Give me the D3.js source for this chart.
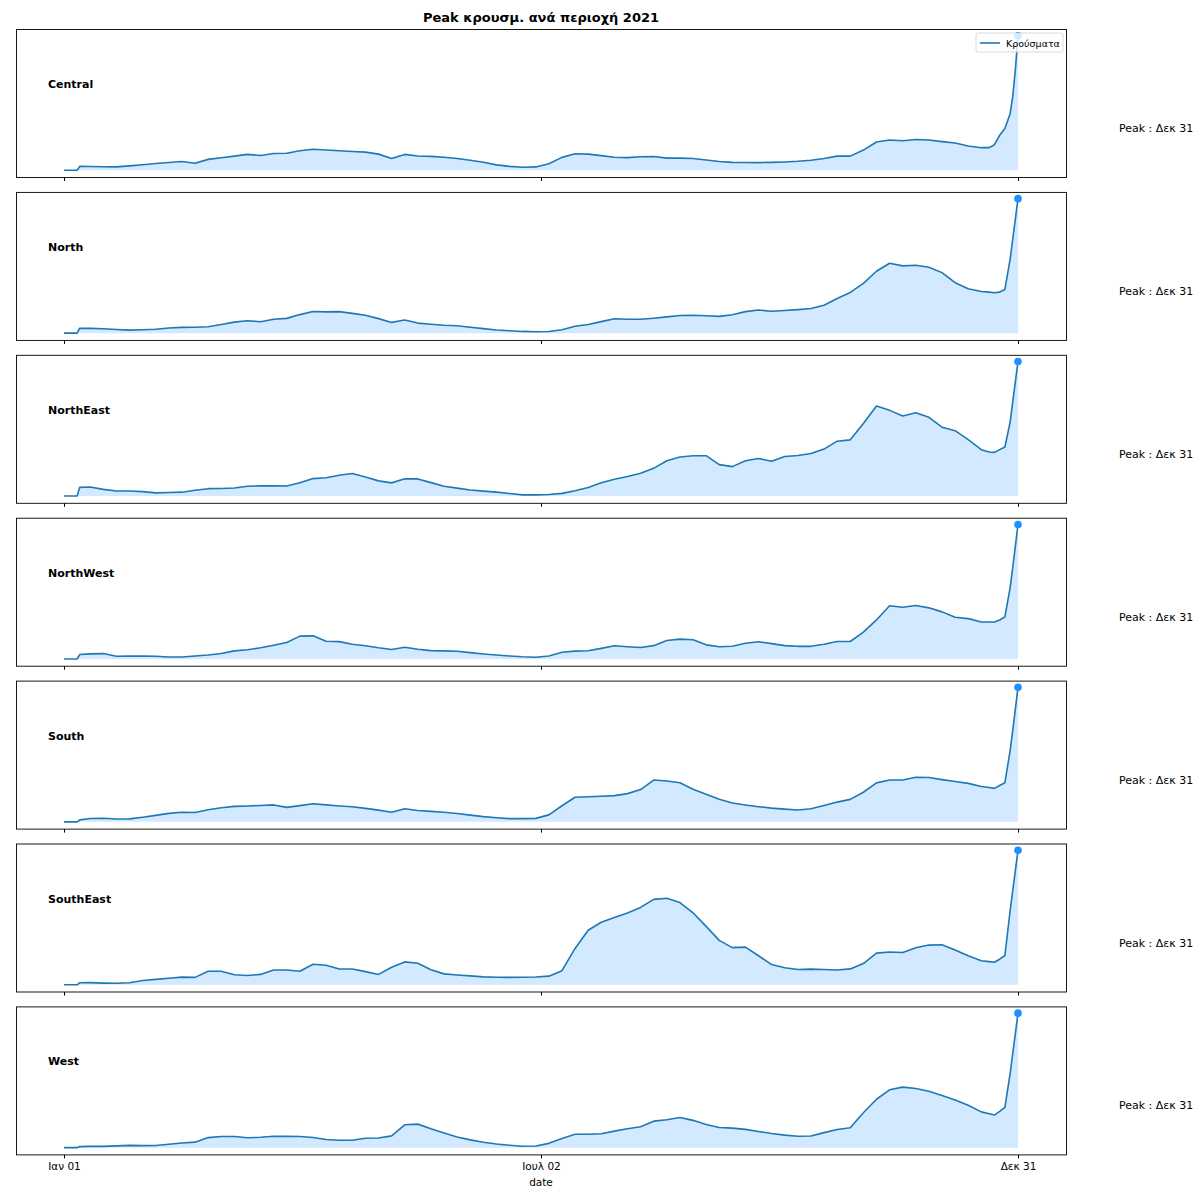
<!DOCTYPE html>
<html>
<head>
<meta charset="utf-8">
<script src="https://cdn.jsdelivr.net/npm/d3@7"></script>
<style>
  html, body { margin: 0; padding: 0; background: #fff; }
  svg { display: block; font-family: "DejaVu Sans", sans-serif; }
</style>
</head>
<body>
<svg id="chart" width="1200" height="1200"></svg>
<script>
// ---- data ----
const title = "Peak κρουσμ. ανά περιοχή 2021";
const legendLabel = "Κρούσματα";
const xLabel = "date";
const monthNames = ["Ιαν","Φεβ","Μαρ","Απρ","Μαϊ","Ιουν","Ιουλ","Αυγ","Σεπ","Οκτ","Νοε","Δεκ"];
const tickDays = [0, 182, 364];
const regions = ["Central","North","NorthEast","NorthWest","South","SouthEast","West"];

// days since 2021-01-01
const days = [0,5,6,
  10,15,20,25,30,35,40,45,50,55,60,65,70,75,80,85,90,95,100,
  105,110,115,120,125,130,135,140,145,150,155,160,165,170,175,180,
  185,190,195,200,205,210,215,220,225,230,235,240,245,250,255,260,
  265,270,275,280,285,290,295,300,305,310,315,320,325,330,335,340,345,350,
  353,355,357,359,361,362,363,364];

const central = [0,0,2.9,
  2.8,2.6,2.5,3.3,4.1,5.0,5.8,6.5,5.2,8.1,9.3,10.5,11.8,11.0,12.5,12.6,14.5,15.6,15.1,
  14.5,14.0,13.5,12.0,8.8,11.8,10.6,10.3,9.7,8.8,7.4,6.0,4.0,2.9,2.3,2.5,
  4.8,9.6,12.3,12.0,10.9,9.7,9.4,10.0,10.2,9.0,9.0,8.7,7.6,6.5,5.9,5.8,
  5.7,5.9,6.2,6.7,7.5,8.7,10.5,10.5,15.0,21.0,22.5,21.9,22.9,22.5,21.3,20.3,18.0,16.8,
  16.8,19,26,31,42,55,75,100];

const north = [0,0,3.7,
  3.6,3.25,2.7,2.3,2.6,2.9,3.8,4.3,4.4,4.8,6.4,8.2,9.25,8.5,10.4,11,13.8,16.1,15.8,
  16,14.7,13.3,10.8,8,9.75,7.5,6.6,5.9,5.5,4.4,3.4,2.4,1.8,1.3,1.1,
  1.2,2.5,5.2,6.4,8.6,10.7,10.3,10.3,11.1,12.1,13.1,13.3,12.9,12.5,13.75,16.0,
  17.2,16.25,16.9,17.5,18.3,20.8,25.8,30.3,37,46,52,50,50.5,49,45,37.5,33,31,
  30.5,30,30.5,32.5,55,70,85,100];

const northEast = [0,0,6.5,
  6.75,5,3.75,3.75,3.3,2.4,2.6,2.9,4.3,5.5,5.6,6,7.3,7.6,7.6,7.5,9.9,13,13.6,
  15.5,16.75,14.1,11.3,9.8,12.9,12.75,10,7.25,5.9,4.5,3.7,2.9,1.9,0.9,0.9,
  1.2,2,4,6.4,9.9,12.5,14.5,17,20.6,26.25,29,30,30,23.4,21.9,26.2,
  27.9,25.9,29.4,30.2,31.6,34.9,40.8,41.8,54,67,63.7,59.5,62,58.5,51.2,48.6,42,34.5,
  32.8,32.5,34.5,36.5,55,70,85,100];

const northWest = [0,0,3.3,
  3.8,4,2,2.1,2.2,2,1.5,1.5,2.2,3,4.1,6,6.8,8.3,10.2,12.3,17,17.2,13.2,
  12.9,11,9.8,8.3,7.1,8.75,7.2,6.2,6,5.75,4.7,3.7,2.9,2.2,1.6,1.3,
  2.2,5,5.8,6.1,7.9,9.8,9.1,8.5,9.9,13.75,14.75,14.25,10.5,9.1,9.4,11.7,
  12.75,11.4,9.9,9.4,9.4,11,13,13,20,29,39.5,38.4,39.7,38,35,31,30,27.5,
  27.5,27.5,29,31.25,53,68,84,100];

const south = [0,0,1.5,
  2.5,2.7,2.1,2.2,3.4,4.8,6.3,7.2,7,9,10.5,11.5,11.8,12.2,12.6,10.8,12.1,13.5,12.6,
  11.8,11.2,10,8.7,7.2,9.7,8.5,7.8,7.1,6.2,5,3.9,3.1,2.4,2.4,2.6,
  5.2,12,18.3,18.7,19,19.5,21,24,31.1,30.4,29.1,24.3,20.6,16.8,14,12.6,
  11.3,10.2,9.5,8.8,9.8,12.2,14.7,16.7,22,29,31.1,31.1,33.2,33,31.4,30,28.6,26.3,
  25.5,24.9,27,29.1,53,68,84,100];

const southEast = [0,0,1.5,
  1.6,1.25,1.1,1.5,3.2,4,4.9,5.7,5.5,10,10,7.4,6.9,7.7,11,11,10,15.3,14.5,
  11.75,11.75,9.75,7.7,13,17,16,11.2,8.1,7.25,6.6,5.9,5.6,5.5,5.6,5.8,
  6.4,10.5,27,40.5,46.5,50,53.3,57.5,63.5,64.3,61.1,53.5,43.4,33,27.6,28,
  21.6,15,12.7,11.3,11.6,11.4,11,11.8,15.8,23.5,24.4,24,27.5,29.5,29.8,25.9,21.6,17.8,
  17.2,16.75,19,21.75,55,70,85,100];

const west = [0,0,0.8,
  1,1,1.3,1.7,1.5,1.6,2.6,3.5,4.1,7.5,8.3,8.3,7.4,7.7,8.5,8.4,8.3,7.6,6.1,
  5.5,5.5,7,7.2,8.75,17,17.5,14,10.9,8,5.8,4,2.7,1.8,1.1,1.2,
  3.2,6.9,10,10,10.3,12.3,14,15.6,19.7,20.8,22.4,20.3,17.2,15,14.5,13.6,
  12,10.5,9.3,8.5,8.7,11.2,13.5,14.8,26,36,43,45,44,42,38.8,35.5,31.5,26.6,
  25.2,24.25,27,30,55,70,85,100];

const seriesList = [central, north, northEast, northWest, south, southEast, west];

// ---- layout ----
const svg = d3.select("#chart");
const left = 16, right = 1066;
const panelTop0 = 29, panelStep = 162.9, panelH = 148;
const lineColor = "#1f77b4";
const fillColor = "dodgerblue";

const start = new Date(2021, 0, 1);
const toDate = d => d3.timeDay.offset(start, d);
const x = d3.scaleTime()
  .domain([toDate(0), toDate(364)])
  .range([64, 1018]);
const fmt = dt => monthNames[dt.getMonth()] + " " + String(dt.getDate()).padStart(2, "0");

svg.append("text")
  .attr("x", 541).attr("y", 22)
  .attr("text-anchor", "middle")
  .attr("font-size", 13).attr("font-weight", "bold")
  .text(title);

regions.forEach((name, i) => {
  const vals = seriesList[i];
  const data = days.map((d, k) => ({ date: toDate(d), v: vals[k] }));
  const top = panelTop0 + i * panelStep;
  const g = svg.append("g").attr("transform", `translate(0,${top})`);
  const y = d3.scaleLinear().domain([-5, 105]).range([panelH, 0]);

  g.append("path").datum(data)
    .attr("d", d3.area().x(d => x(d.date)).y0(y(0)).y1(d => y(d.v)))
    .attr("fill", fillColor).attr("fill-opacity", 0.2);
  g.append("path").datum(data)
    .attr("d", d3.line().x(d => x(d.date)).y(d => y(d.v)))
    .attr("fill", "none").attr("stroke", lineColor).attr("stroke-width", 1.6)
    .attr("stroke-linejoin", "round");

  const peak = data.reduce((a, b) => (b.v > a.v ? b : a));
  g.append("circle")
    .attr("cx", x(peak.date)).attr("cy", y(peak.v)).attr("r", 3.8)
    .attr("fill", fillColor);

  // frame
  g.append("rect")
    .attr("x", left + 0.5).attr("y", 0.5)
    .attr("width", right - left).attr("height", panelH)
    .attr("fill", "none").attr("stroke", "#000").attr("stroke-width", 0.9);

  // x axis
  const isLast = i === regions.length - 1;
  const axis = d3.axisBottom(x)
    .tickValues(tickDays.map(toDate))
    .tickSize(3.5).tickPadding(4)
    .tickFormat(isLast ? fmt : () => "");
  const ax = g.append("g").attr("transform", `translate(0,${panelH + 0.5})`).call(axis);
  ax.select(".domain").remove();
  ax.selectAll("text").attr("font-size", 10.5).attr("fill", "#000")
    .attr("font-family", "DejaVu Sans, sans-serif");

  // region label
  g.append("text")
    .attr("x", 48).attr("y", 59)
    .attr("font-size", 11).attr("font-weight", "bold")
    .text(name);

  // peak label
  g.append("text")
    .attr("x", 1119).attr("y", 103)
    .attr("font-size", 11)
    .text("Peak : " + fmt(peak.date));

  if (i === 0) {
    const lg = g.append("g").attr("transform", "translate(976,4)");
    lg.append("rect").attr("x", 0).attr("y", 0).attr("width", 87).attr("height", 19)
      .attr("rx", 2).attr("fill", "#fff").attr("fill-opacity", 0.8)
      .attr("stroke", "#d0d0d0").attr("stroke-width", 0.8);
    lg.append("line").attr("x1", 4).attr("x2", 24).attr("y1", 10).attr("y2", 10)
      .attr("stroke", lineColor).attr("stroke-width", 1.6);
    lg.append("text").attr("x", 30).attr("y", 13.5)
      .attr("font-size", 9.5).text(legendLabel);
  }
});

svg.append("text")
  .attr("x", 541).attr("y", 1186)
  .attr("text-anchor", "middle")
  .attr("font-size", 10.5)
  .text(xLabel);
</script>
</body>
</html>
